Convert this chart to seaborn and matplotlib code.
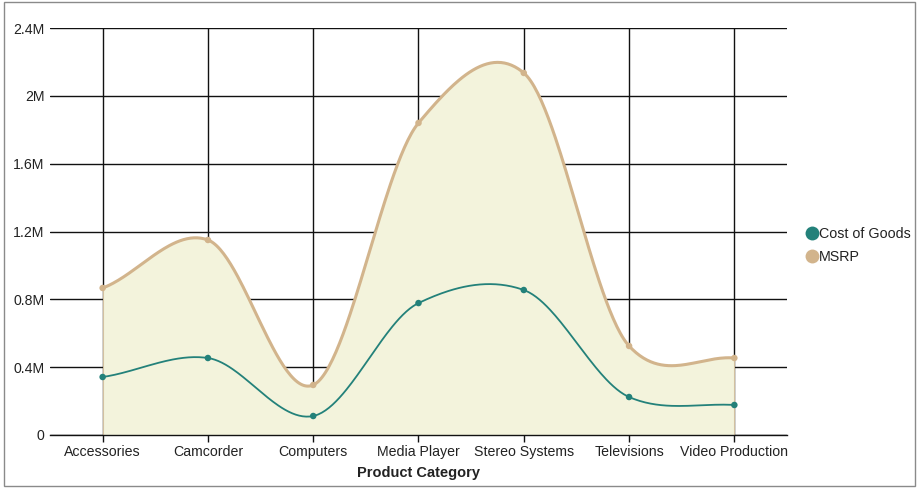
import numpy as np
import pandas as pd
import matplotlib
matplotlib.use("Agg")
import matplotlib.pyplot as plt
from matplotlib.lines import Line2D
from matplotlib.patches import Rectangle
import seaborn as sns

categories = ["Accessories", "Camcorder", "Computers", "Media Player",
              "Stereo Systems", "Televisions", "Video Production"]
cost_of_goods = [342000, 454000, 112000, 778000, 855000, 224000, 177000]
msrp = [867000, 1150000, 295000, 1840000, 2135000, 525000, 454000]
series_names = ["Cost of Goods", "MSRP"]
y_ticks = [0, 400000, 800000, 1200000, 1600000, 2000000, 2400000]
y_tick_labels = ["0", "0.4M", "0.8M", "1.2M", "1.6M", "2M", "2.4M"]

TEAL = "#23817a"
TAN = "#d2b48c"
FILL = "#f3f3dc"
TXT = "#222222"

sns.set_style("white")
plt.rcParams["font.family"] = ["Liberation Sans", "DejaVu Sans"]


def smooth(vals, k=0.8, steps=60):
    y = np.asarray(vals, float)
    n = len(y)
    m = np.empty(n)
    m[1:-1] = k * (y[2:] - y[:-2]) / 2
    m[0] = k * (y[1] - y[0])
    m[-1] = k * (y[-1] - y[-2])
    xs, ys = [], []
    for i in range(n - 1):
        t = np.linspace(0, 1, steps, endpoint=(i == n - 2))
        h00 = 2 * t**3 - 3 * t**2 + 1
        h10 = t**3 - 2 * t**2 + t
        h01 = -2 * t**3 + 3 * t**2
        h11 = t**3 - t**2
        xs.append(i + t)
        ys.append(h00 * y[i] + h10 * m[i] + h01 * y[i + 1] + h11 * m[i + 1])
    return np.concatenate(xs), np.concatenate(ys)


xc, yc = smooth(cost_of_goods)
xm, ym = smooth(msrp)
curves = pd.concat([
    pd.DataFrame({"x": xc, "y": yc, "series": series_names[0]}),
    pd.DataFrame({"x": xm, "y": ym, "series": series_names[1]}),
])
points = pd.DataFrame({
    "x": list(range(len(categories))) * 2,
    "y": cost_of_goods + msrp,
    "series": [series_names[0]] * len(categories) + [series_names[1]] * len(categories),
})
palette = {series_names[0]: TEAL, series_names[1]: TAN}

fig = plt.figure(figsize=(9.18, 4.88), dpi=100)
ax = fig.add_axes([50 / 918, 53 / 488, 737 / 918, 407 / 488])

ax.fill_between(xm, 0, ym, color=FILL, zorder=1, linewidth=0)
ax.vlines([0, len(categories) - 1], 0, [msrp[0], msrp[-1]], color=TAN, lw=0.8, alpha=0.6, zorder=1.5)

sns.lineplot(data=curves, x="x", y="y", hue="series", palette=palette, ax=ax,
             sort=False, legend=False, zorder=3, estimator=None)
for l in ax.lines:
    if matplotlib.colors.to_hex(l.get_color()) == TAN:
        l.set_linewidth(2.2)
    else:
        l.set_linewidth(1.3)

sns.scatterplot(data=points, x="x", y="y", hue="series", palette=palette, ax=ax,
                legend=False, s=22, edgecolor="none", zorder=4)

ax.set_xlim(-0.5, len(categories) - 1 + 0.5)
ax.set_ylim(0, 2400000)
ax.set_xticks(range(len(categories)))
ax.set_xticklabels(categories)
ax.set_yticks(y_ticks)
ax.set_yticklabels(y_tick_labels)

for yv in y_ticks:
    ax.axhline(yv, color="#111111", lw=1.0, zorder=0.5)
ax.vlines(range(len(categories)), 0, 2400000, color="#111111", lw=1.0, zorder=0.5)

for s in ["top", "right", "left"]:
    ax.spines[s].set_visible(False)
ax.spines["bottom"].set_color("#111111")
ax.spines["bottom"].set_linewidth(1.0)
ax.spines["bottom"].set_zorder(5)

ax.tick_params(axis="x", length=5, width=1, color="#111111", labelsize=10.2, labelcolor=TXT, pad=2,
               bottom=True)
ax.tick_params(axis="y", length=0, labelsize=10.2, labelcolor=TXT, pad=4, left=True)
ax.set_xlabel("Product Category", fontsize=10.5, fontweight="bold", color=TXT, labelpad=5)
ax.set_ylabel("")

handles = [Line2D([0], [0], marker="o", color="none", markerfacecolor=c, markeredgecolor="none",
                  markersize=10) for c in (TEAL, TAN)]
fig.legend(handles, series_names, loc="center left", bbox_to_anchor=(793.5 / 918, 1 - 245.5 / 488),
           frameon=False, fontsize=10.3, handletextpad=0.05, labelspacing=0.6, handlelength=0.8,
           labelcolor=TXT)

fig.patches.append(Rectangle((4 / 918, 2 / 488), 911 / 918, 484 / 488, transform=fig.transFigure,
                             fill=False, edgecolor="#8a8a8a", lw=1.0))

fig.savefig("out.png", dpi=100)
